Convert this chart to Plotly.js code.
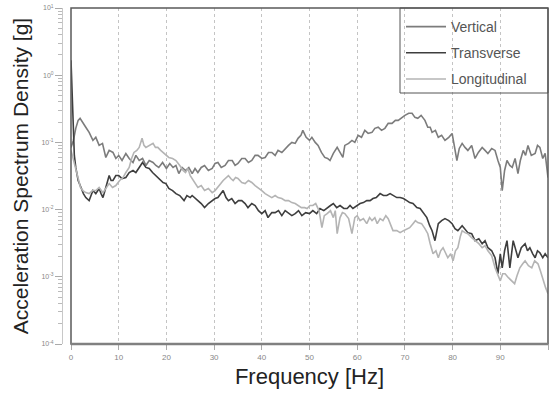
<!DOCTYPE html>
<html>
<head>
<meta charset="utf-8">
<script src="https://cdn.plot.ly/plotly-3.0.1.min.js"></script>
<style>html,body{margin:0;padding:0;background:#fff}#chart{width:552px;height:396px}</style>
</head>
<body>
<div id="chart"></div>
<script>
// Frequency [Hz] and spectral density [g]
const seriesNames = ["Vertical", "Transverse", "Longitudinal"];

const vertF = [0,0.5,1,1.5,1.9,2.5,3.1,3.8,4.6,5.2,5.9,6.6,7.3,8,8.8,9.4,10,10.7,11.5,12.2,13,13.6,14.3,15,15.7,16.4,17.2,17.8,18.4,19.2,20,20.7,21.4,22,22.6,23.3,24,24.7,25.4,26,26.6,27.3,28,28.8,29.6,30.2,30.8,31.5,32.3,33,33.8,34.4,35,35.8,36.5,37.2,37.9,38.6,39.2,40,40.7,41.4,42.1,42.8,43.4,44.2,44.9,45.6,46.3,47,47.6,48.2,48.6,49.3,50,50.5,51.2,51.8,52.5,53.2,53.8,54.3,55,55.8,56.4,57,57.4,58.2,58.9,59.5,60.2,60.9,61.6,62.3,63.1,63.7,64.4,65.1,65.8,66.5,67.3,68,68.6,69.3,70,70.8,71.5,72.1,72.7,73.4,74.2,74.8,75.3,75.7,76.4,77,77.7,78.4,79.2,79.9,80.4,80.9,81.4,82,82.6,83.2,84,84.7,85.4,86.2,86.8,87.4,88.2,88.9,89.5,90,90.4,90.9,91.4,92,92.5,93.1,93.7,94.2,94.8,95.3,95.8,96.5,97.3,97.8,98.3,98.9,99.4,100];
const vertV = [0.0842,0.107,0.162,0.213,0.228,0.192,0.168,0.141,0.107,0.119,0.0902,0.0966,0.0597,0.076,0.0709,0.0577,0.064,0.0538,0.0685,0.0577,0.0502,0.064,0.0538,0.0577,0.0454,0.0538,0.0502,0.0454,0.0424,0.0502,0.0409,0.0486,0.0424,0.0454,0.0344,0.0424,0.0382,0.0424,0.0344,0.0409,0.0356,0.0424,0.0454,0.0382,0.0409,0.0486,0.0502,0.0424,0.0454,0.0538,0.0538,0.0454,0.0486,0.0577,0.0577,0.0502,0.0538,0.064,0.064,0.0577,0.0597,0.0709,0.0709,0.064,0.076,0.0709,0.0813,0.0902,0.1,0.0966,0.115,0.127,0.151,0.119,0.107,0.119,0.1,0.0902,0.0709,0.0597,0.0577,0.0538,0.0685,0.0842,0.0709,0.0597,0.0902,0.0966,0.107,0.1,0.127,0.119,0.151,0.136,0.141,0.162,0.168,0.151,0.162,0.192,0.192,0.213,0.213,0.236,0.253,0.271,0.271,0.236,0.228,0.253,0.213,0.168,0.168,0.141,0.151,0.119,0.127,0.107,0.119,0.136,0.0902,0.0538,0.0813,0.0966,0.0842,0.076,0.0902,0.0577,0.0709,0.0842,0.076,0.0685,0.0813,0.076,0.0538,0.0424,0.0192,0.0382,0.0538,0.0454,0.0424,0.0577,0.0344,0.0538,0.076,0.064,0.0902,0.064,0.0685,0.0902,0.0842,0.0577,0.0685,0.03];

const transF = [0,0.3,0.7,1,1.5,2.1,2.6,3.1,3.8,4.2,4.6,5.2,5.9,6.3,6.7,7.3,8,8.4,8.8,9.4,10,10.7,11.5,12.2,13,13.6,14.3,15,15.7,16.4,17.1,17.8,18.5,19.3,19.9,20.5,21.3,22,22.8,23.7,24.3,25,25.4,26,26.6,27.3,28,28.8,29.6,30.2,30.8,31.4,31.9,32.5,33,33.7,34.4,35.1,35.8,36.5,37.1,37.9,38.6,39.3,40,40.7,41.3,42.1,42.8,43.5,44.2,44.9,45.5,46.3,47,47.7,48.4,49.2,50,50.7,51.5,52.2,53,53.7,54.4,55,55.7,56.4,57.2,57.9,58.5,59.1,59.9,60.6,61.3,62,62.7,63.3,64,64.8,65.5,66.2,66.9,67.5,68.3,69,69.7,70.4,71,71.7,72.5,73.2,73.9,74.6,75.2,75.7,76.3,77,77.7,78.4,79.2,79.9,80.5,81.1,82,82.6,83.2,84,84.7,85.5,86.2,86.8,87.4,88.2,88.9,89.5,90,90.4,90.9,91.4,92,92.7,93.2,93.7,94.4,95.2,95.7,96.2,96.8,97.3,97.8,98.3,98.9,99.4,100];
const transV = [1.67,0.382,0.064,0.0424,0.0271,0.0213,0.0173,0.0151,0.0136,0.0162,0.0192,0.0173,0.0206,0.0173,0.0151,0.0213,0.0321,0.0271,0.0271,0.0321,0.0321,0.029,0.03,0.0356,0.0382,0.0356,0.0424,0.0502,0.0424,0.0409,0.0356,0.0321,0.029,0.0253,0.0244,0.0206,0.0192,0.0173,0.0162,0.0136,0.0162,0.0151,0.0162,0.0146,0.0136,0.0123,0.0107,0.0123,0.0136,0.0146,0.0151,0.0173,0.0192,0.0151,0.0136,0.0146,0.0123,0.0136,0.0136,0.0123,0.0107,0.0123,0.0115,0.00966,0.00871,0.00966,0.0076,0.00902,0.00902,0.00966,0.00813,0.00966,0.00902,0.00813,0.00871,0.00966,0.00813,0.00902,0.00871,0.00966,0.00871,0.0104,0.00966,0.0107,0.0115,0.0123,0.0107,0.0115,0.0104,0.0104,0.0115,0.0104,0.0115,0.0123,0.0127,0.0136,0.0136,0.0146,0.0151,0.0173,0.0162,0.0162,0.0173,0.0162,0.0151,0.0151,0.0146,0.0136,0.0127,0.0123,0.0107,0.0104,0.00871,0.0076,0.00577,0.00486,0.00345,0.00618,0.00685,0.00734,0.00685,0.00618,0.0052,0.00486,0.00577,0.0052,0.00454,0.00438,0.00345,0.00369,0.00311,0.00345,0.00271,0.00244,0.00192,0.00111,0.0022,0.00136,0.00244,0.00345,0.00136,0.00345,0.00244,0.00192,0.00271,0.00311,0.00244,0.00271,0.0022,0.00192,0.00244,0.00228,0.00192,0.0022,0.00192];

const longF = [0,0.4,1,1.5,2,2.5,3.1,3.8,4.5,5.2,5.9,6.7,7.3,8,8.7,9.4,10.2,10.9,11.5,12.2,12.7,13.2,13.8,14.3,14.9,15.3,15.7,16.5,17.2,17.7,18.2,18.8,19.3,19.9,20.5,21.3,22,22.8,23.5,24,24.5,25,25.7,26.6,27.3,28,28.8,29.6,30.2,30.8,31.4,31.9,32.5,33,33.5,34,34.5,35,35.8,36.5,37.2,37.9,38.6,39.2,40,40.7,41.4,42.1,42.8,43.4,44.2,44.9,45.6,46.3,47,47.6,48.3,49,49.5,50.1,50.7,51.3,52,52.6,53.1,53.7,54.4,55,55.4,55.8,56.4,56.9,57.4,58.2,58.9,59.5,60,60.6,61.3,62,62.6,63.1,63.7,64.2,64.8,65.4,66,66.5,67,67.5,68.3,69,69.7,70.4,71,71.7,72.2,72.7,73.5,74.2,74.8,75.3,75.9,76.5,77,77.5,78,78.5,79,79.6,80.1,80.6,81.1,81.6,82,82.6,83.2,84,84.7,85.5,86.2,86.8,87.4,88.2,88.9,89.5,90,90.5,91,91.7,92.5,93,93.5,94.1,94.7,95.2,95.9,96.6,97.2,97.9,98.4,99,99.5,100];
const longV = [0.076,0.0597,0.0424,0.03,0.0213,0.0192,0.0179,0.0173,0.0192,0.0192,0.0213,0.0179,0.0206,0.0244,0.0213,0.0228,0.0271,0.03,0.0356,0.0424,0.0577,0.0709,0.076,0.0842,0.115,0.0902,0.0842,0.0902,0.0966,0.0842,0.0842,0.076,0.0709,0.064,0.0597,0.0577,0.0538,0.0454,0.0382,0.0356,0.0409,0.0321,0.0271,0.0213,0.0228,0.0192,0.0206,0.0179,0.0192,0.0213,0.0244,0.0271,0.03,0.0321,0.029,0.0271,0.03,0.029,0.0253,0.0244,0.0271,0.0253,0.0228,0.0213,0.0192,0.0173,0.0162,0.0151,0.0162,0.0151,0.0146,0.0136,0.0136,0.0127,0.0123,0.0115,0.0107,0.0107,0.0104,0.0115,0.0115,0.0123,0.00966,0.00538,0.00813,0.00871,0.00966,0.0076,0.00966,0.00438,0.0076,0.00902,0.00871,0.00734,0.00438,0.0076,0.00813,0.00685,0.00734,0.00618,0.0076,0.00685,0.0076,0.00618,0.00734,0.00685,0.00813,0.00734,0.00577,0.00486,0.00486,0.00454,0.00486,0.0052,0.00538,0.00618,0.00685,0.0064,0.00618,0.0052,0.00438,0.00311,0.0022,0.00244,0.00192,0.00244,0.00271,0.00228,0.00192,0.0022,0.00173,0.00244,0.00271,0.00395,0.00486,0.00454,0.00438,0.00382,0.00345,0.00311,0.00271,0.0029,0.00244,0.00206,0.00136,0.00104,0.00087,0.00111,0.00111,0.00097,0.00087,0.00079,0.00104,0.00136,0.00156,0.00173,0.00146,0.00136,0.00173,0.00156,0.00123,0.00087,0.00069,0.00056];

const xTickVals = [0,10,20,30,40,50,60,70,80,90,100];
const yTickVals = [1e-4, 1e-3, 1e-2, 1e-1, 1, 10];
const yTickText = ['10<sup>-4</sup>','10<sup>-3</sup>','10<sup>-2</sup>','10<sup>-1</sup>','10<sup>0</sup>','10<sup>1</sup>'];

const W = 552, H = 396;
const M = {l: 36, r: 4, t: 8, b: 52};
const pw = W - M.l - M.r, ph = H - M.t - M.b;
const px = v => (v - M.l) / pw;          // pixel x -> paper x
const py = v => 1 - (v - M.t) / ph;      // pixel y -> paper y
const plotLeft = px(71);

function tr(name, f, v, color, grp) {
  return {type: 'scatter', mode: 'lines', name: name, x: f, y: v,
          legendgroup: grp, line: {color: color, width: 1.6}};
}

const data = [
  tr(seriesNames[0], vertF, vertV, '#7c7c7c', 'a'),
  tr(seriesNames[1], transF, transV, '#3e3e3e', 'b'),
  tr(seriesNames[2], longF, longV, '#b4b4b4', 'c')
];

const layout = {
  width: W, height: H, margin: M,
  paper_bgcolor: '#fff', plot_bgcolor: '#fff',
  font: {family: 'Liberation Sans, Arial, sans-serif', color: '#222'},
  showlegend: true,
  legend: {x: px(401), y: py(11), xanchor: 'left', yanchor: 'top',
           bgcolor: 'rgba(0,0,0,0)', borderwidth: 0,
           font: {size: 14, color: '#555'}, traceorder: 'grouped', tracegroupgap: 5, itemwidth: 40},
  xaxis: {domain: [plotLeft, 1], range: [0, 100], tickvals: xTickVals,
          showgrid: true, gridcolor: '#c4c4c4', griddash: 'dot', gridwidth: 1,
          zeroline: false, showline: false, ticks: 'outside', ticklen: 5, tickcolor: '#aaa',
          tickfont: {size: 8, color: '#888'},
          title: {text: 'Frequency [Hz]', font: {size: 22, color: '#222'}, standoff: 8}},
  yaxis: {type: 'log', range: [-4, 1], tickmode: 'array', tickvals: yTickVals, ticktext: yTickText,
          anchor: 'free', position: px(62), showline: true, linecolor: '#c8c8c8', linewidth: 1,
          ticks: 'outside', ticklen: 7, tickcolor: '#aaa',
          minor: {tickmode: 'linear', dtick: 'D1', ticks: 'outside', ticklen: 4, tickcolor: '#bbb', showgrid: false},
          showgrid: false, zeroline: false,
          tickfont: {size: 7, color: '#888'},
          title: {text: 'Acceleration Spectrum Density [g]', font: {size: 21, color: '#222'}, standoff: 6}},
  shapes: [
    {type: 'rect', xref: 'paper', yref: 'paper', x0: plotLeft, x1: 1, y0: 0, y1: 1,
     line: {color: '#5a5a5a', width: 1.5}},
    {type: 'line', xref: 'paper', yref: 'paper', x0: plotLeft, x1: 1, y0: 0, y1: 0,
     line: {color: '#808080', width: 2.5}},
    {type: 'rect', xref: 'paper', yref: 'paper', x0: px(400), x1: 1, y0: py(93), y1: 1,
     line: {color: '#555', width: 1}}
  ]
};

Plotly.newPlot('chart', data, layout, {displayModeBar: false, staticPlot: true});
</script>
</body>
</html>
